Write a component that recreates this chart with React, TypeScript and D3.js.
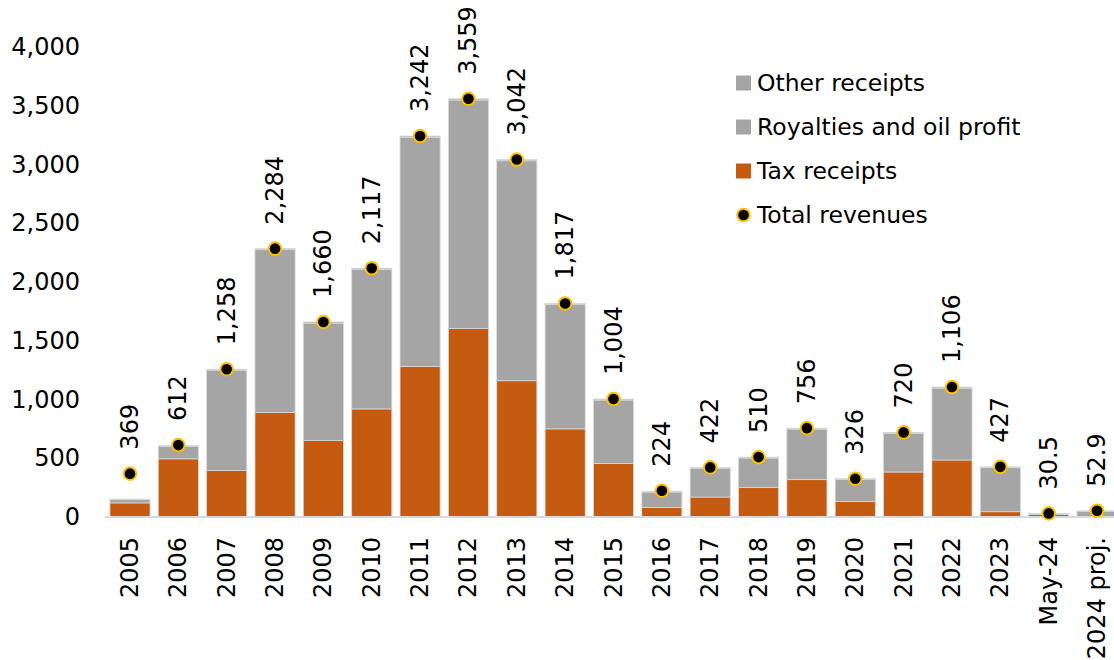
import React from "react";
import * as d3 from "d3";

const categories = ["2005","2006","2007","2008","2009","2010","2011","2012","2013","2014","2015","2016","2017","2018","2019","2020","2021","2022","2023","May-24","2024 proj."];
const taxReceipts = [120,495,395,890,650,920,1280,1605,1160,750,455,80,170,250,318,133,383,485,45,22,5];
const royalties = [28,105,855,1385,1000,1187,1952,1944,1872,1057,540,132,245,252,430,185,328,612,375,6,44];
const otherReceipts = [5,7,8,9,10,10,10,10,10,10,9,8,7,8,8,8,9,9,7,2,3];
const totalRevenues = [369,612,1258,2284,1660,2117,3242,3559,3042,1817,1004,224,422,510,756,326,720,1106,427,30.5,52.9];
const totalLabels = ["369","612","1,258","2,284","1,660","2,117","3,242","3,559","3,042","1,817","1,004","224","422","510","756","326","720","1,106","427","30.5","52.9"];
const yTicks = [0,500,1000,1500,2000,2500,3000,3500,4000];
const legendItems = [
  { label: "Other receipts", type: "rect", color: "#A5A5A5" },
  { label: "Royalties and oil profit", type: "rect", color: "#A5A5A5" },
  { label: "Tax receipts", type: "rect", color: "#C55A11" },
  { label: "Total revenues", type: "dot", color: "#000" },
];

const W = 1114, H = 660;
const FONT = "'DejaVu Sans', sans-serif";

export default function App() {
  const y = d3.scaleLinear().domain([0, 4000]).range([517, 47]);
  const x = d3.scaleBand<string>().domain(categories).range([105.8, 1121.2]).paddingInner(0.17).paddingOuter(0.085);
  const bw = x.bandwidth();

  const rows = categories.map((c, i) => ({ c, tax: taxReceipts[i], roy: royalties[i], oth: otherReceipts[i] }));
  const stack = d3.stack<any>().keys(["tax", "roy", "oth"])(rows);
  const colors: Record<string, string> = { tax: "#C55A11", roy: "#A5A5A5", oth: "#A5A5A5" };

  return (
    <svg width={W} height={H} style={{ position: "absolute", left: 0, top: 0, background: "#fff" }} fontFamily={FONT}>
      {yTicks.map((t) => (
        <text key={t} x={80} y={y(t)} textAnchor="end" dominantBaseline="central" fontSize={24} fill="#000">
          {d3.format(",")(t)}
        </text>
      ))}
      {stack.map((layer) => (
        <g key={layer.key} fill={colors[layer.key]}>
          {layer.map((d, i) => (
            <rect key={i} x={x(categories[i])} y={y(d[1])} width={bw} height={Math.max(0, y(d[0]) - y(d[1]))}
              stroke="#d9d9d9" strokeWidth={0.8} />
          ))}
        </g>
      ))}
      <line x1={105} x2={W} y1={y(0)} y2={y(0)} stroke="#d9d9d9" strokeWidth={2} />
      {categories.map((c, i) => {
        const cx = (x(c) as number) + bw / 2;
        const cy = y(totalRevenues[i]);
        return (
          <g key={c}>
            <circle cx={cx} cy={cy} r={6.3} fill="#000" stroke="#FFC000" strokeWidth={2} />
            <text transform={`translate(${cx},${cy - 24}) rotate(-90)`} textAnchor="start" dominantBaseline="central" fontSize={24} fill="#000">
              {totalLabels[i]}
            </text>
            <text transform={`translate(${cx},${537}) rotate(-90)`} textAnchor="end" dominantBaseline="central" fontSize={24} fill="#000">
              {c}
            </text>
          </g>
        );
      })}
      {legendItems.map((l, i) => {
        const ly = 83 + i * 44;
        return (
          <g key={l.label}>
            {l.type === "rect" ? (
              <rect x={736} y={ly - 7.5} width={15} height={15} fill={l.color} />
            ) : (
              <circle cx={743.5} cy={ly} r={6.3} fill="#000" stroke="#FFC000" strokeWidth={2} />
            )}
            <text x={757} y={ly} dominantBaseline="central" fontSize={23.5} fill="#000">{l.label}</text>
          </g>
        );
      })}
    </svg>
  );
}
